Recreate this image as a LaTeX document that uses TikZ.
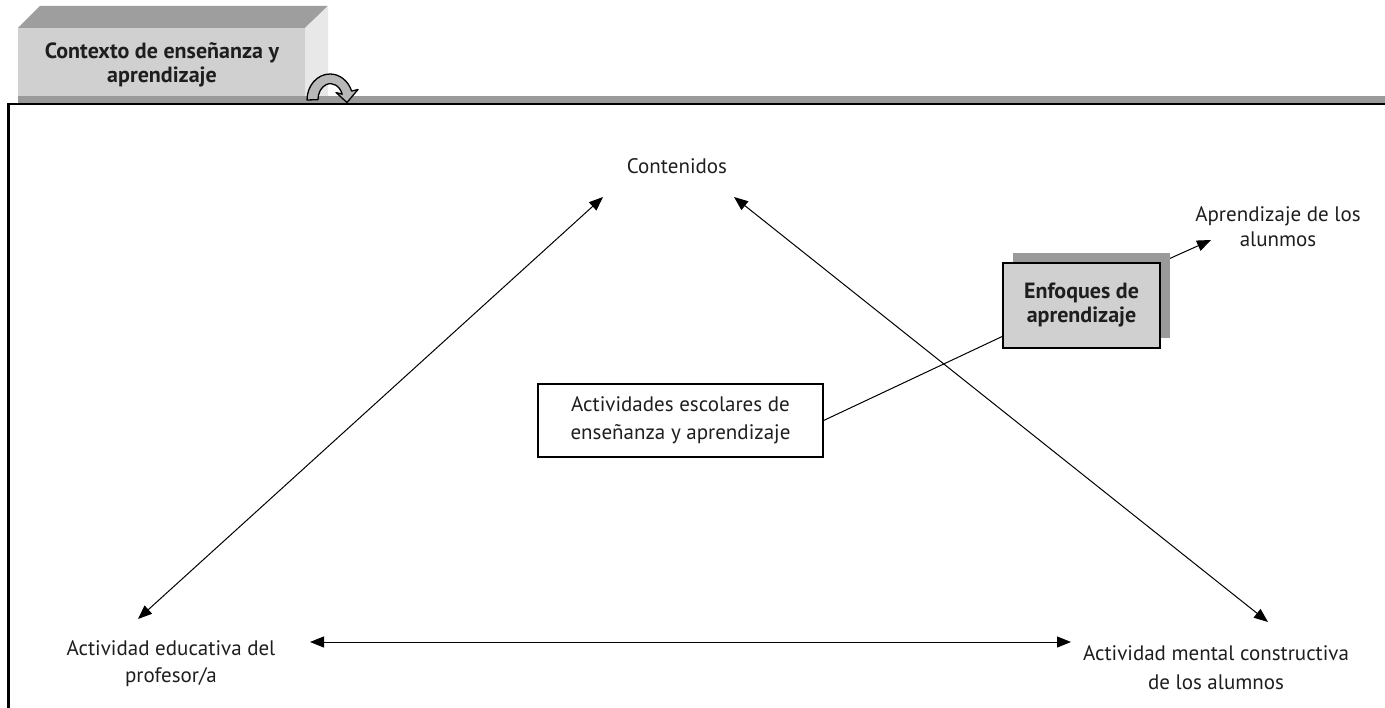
\documentclass[tikz,border=0pt]{standalone}
\usepackage{fontspec}
\setmainfont{PT Sans}
\usetikzlibrary{arrows.meta,calc}
\definecolor{lightface}{HTML}{D0D0D0}
\definecolor{topface}{HTML}{9E9E9E}
\definecolor{sideface}{HTML}{E8E8E8}
\definecolor{bandgray}{HTML}{9A9A9A}
\definecolor{ink}{HTML}{1E1E1E}
\tikzset{
  lbl/.style={font=\fontsize{21}{27}\selectfont, text=ink, align=center, inner sep=0pt},
  blbl/.style={font=\fontsize{22}{24}\selectfont\bfseries, text=ink, align=center, inner sep=0pt},
  tip/.style={-{Triangle[length=14pt,width=11pt]}},
  dbl/.style={{Triangle[length=14pt,width=11pt]}-{Triangle[length=14pt,width=11pt]}},
  conn/.style={line width=1pt},
}
\begin{document}
\begin{tikzpicture}[x=1pt,y=-1pt]
\useasboundingbox (0,0) rectangle (1385,708);
% 3D heading box
\fill[topface] (18,28) -- (40,6) -- (328,6) -- (305,28) -- cycle;
\fill[sideface] (305,28) -- (328,6) -- (328,97) -- (305,97) -- cycle;
\fill[lightface] (18,28) rectangle (305,97);
\node[blbl] (ctx) at (162,65) {Contexto de enseñanza y\\aprendizaje};
% band and frame
\fill[bandgray] (18,96) rectangle (1385,103);
\draw[line width=2.5pt] (8.5,708) -- (8.5,104) -- (1385,104);
% curved arrow
\draw[fill=lightface!70!gray, line width=1.3pt, line join=round]
  (307,100) arc[start angle=180, end angle=340, x radius=23, y radius=26]
  -- (358,89.5) -- (347,102.5) -- (336,92.5) -- (342.2,94.2)
  arc[start angle=340, end angle=180, x radius=12.5, y radius=16] -- cycle;
% labels
\node[lbl] (cont) at (677,166) {Contenidos};
\node[lbl, font=\fontsize{21}{25}\selectfont] (apr) at (1278,227) {Aprendizaje de los\\alunmos};
\node[lbl] (prof) at (171,664) {Actividad educativa del\\profesor/a};
\node[lbl, font=\fontsize{21}{29}\selectfont] (ment) at (1216,668) {Actividad mental constructiva\\de los alumnos};
% activities box
\node[lbl, font=\fontsize{21}{28}\selectfont, draw, line width=1.2pt, minimum width=285pt, minimum height=73pt] (act) at (680.5,420.5) {Actividades escolares de\\enseñanza y aprendizaje};
% enfoques box
\node[blbl, minimum width=157pt, minimum height=85pt] (enf) at (1081.5,305.5) {};
\coordinate (aprtip) at (1211,240);
\draw[conn,tip] (enf.north east) -- (aprtip);
\fill[bandgray] ($(enf.north west)+(10,-10)$) rectangle ($(enf.south east)+(10,-10)$);
\node[blbl, draw, fill=lightface, line width=2.5pt, minimum width=157pt, minimum height=85pt] at (enf) {Enfoques de\\aprendizaje};
% connectors
\coordinate (p1) at (138,619);
\coordinate (c1) at (603,197);
\coordinate (c2) at (734,197);
\coordinate (m1) at (1268,622);
\coordinate (p2) at (310,642);
\coordinate (m2) at (1071,642);
\draw[conn,dbl] (p1) -- (c1);
\draw[conn,dbl] (c2) -- (m1);
\draw[conn,dbl] (p2) -- (m2);
\draw[conn] (act.east) -- ($(enf.south west)+(0,-12)$);
\end{tikzpicture}
\end{document}
